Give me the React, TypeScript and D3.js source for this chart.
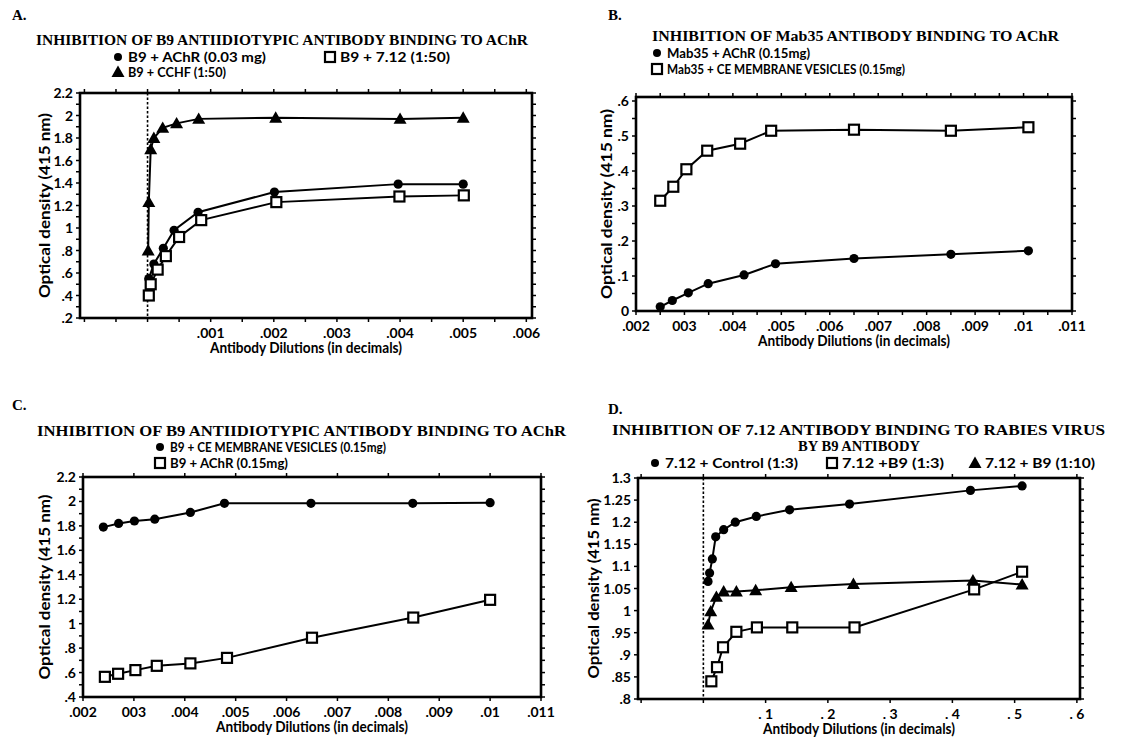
import React from 'react';
import * as d3 from 'd3';

// ---------- Panel A data ----------
const aCircleX = [0.00002, 0.0001, 0.00025, 0.00042, 0.0008, 0.00201, 0.00397, 0.005];
const aCircleY = [0.55, 0.68, 0.82, 0.98, 1.14, 1.32, 1.39, 1.39];
const aSquareX = [0.00002, 0.00005, 0.00016, 0.00029, 0.0005, 0.00085, 0.00204, 0.00399, 0.00501];
const aSquareY = [0.4, 0.5, 0.63, 0.75, 0.92, 1.07, 1.23, 1.28, 1.29];
const aTriX = [0.00001, 0.00002, 0.00005, 0.0001, 0.00024, 0.00046, 0.00081, 0.00203, 0.004, 0.005];
const aTriY = [0.8, 1.23, 1.7, 1.8, 1.89, 1.93, 1.97, 1.98, 1.97, 1.98];
const aXTickVals = [0.001, 0.002, 0.003, 0.004, 0.005, 0.006];
const aXTickLabels = ['.001', '.002', '.003', '.004', '.005', '.006'];
const aYTickVals = [2.2, 2, 1.8, 1.6, 1.4, 1.2, 1, 0.8, 0.6, 0.4, 0.2];
const aYTickLabels = ['2.2', '2', '1.8', '1.6', '1.4', '1.2', '1', '.8', '.6', '.4', '.2'];

// ---------- Panel B data ----------
const bCircleX = [0.0025, 0.00275, 0.00308, 0.00349, 0.00423, 0.00488, 0.0065, 0.0085, 0.0101];
const bCircleY = [0.012, 0.03, 0.052, 0.078, 0.103, 0.135, 0.15, 0.162, 0.172];
const bSquareX = [0.0025, 0.00277, 0.00304, 0.00347, 0.00415, 0.00479, 0.0065, 0.0085, 0.0101];
const bSquareY = [0.315, 0.355, 0.405, 0.458, 0.478, 0.515, 0.518, 0.515, 0.525];
const bXTickVals = [0.002, 0.003, 0.004, 0.005, 0.006, 0.007, 0.008, 0.009, 0.01, 0.011];
const bXTickLabels = ['.002', '003', '.004', '.005', '.006', '.007', '.008', '.009', '.01', '.011'];
const bYTickVals = [0.6, 0.5, 0.4, 0.3, 0.2, 0.1, 0];
const bYTickLabels = ['.6', '.5', '.4', '.3', '.2', '.1', '0'];

// ---------- Panel C data ----------
const cCircleX = [0.0024, 0.0027, 0.00301, 0.00341, 0.00411, 0.00478, 0.00648, 0.00848, 0.01];
const cCircleY = [1.79, 1.82, 1.84, 1.855, 1.91, 1.985, 1.985, 1.985, 1.99];
const cSquareX = [0.00243, 0.00269, 0.00303, 0.00345, 0.00411, 0.00483, 0.0065, 0.00849, 0.01];
const cSquareY = [0.565, 0.59, 0.62, 0.655, 0.675, 0.72, 0.885, 1.05, 1.195];
const cXTickVals = [0.002, 0.003, 0.004, 0.005, 0.006, 0.007, 0.008, 0.009, 0.01, 0.011];
const cXTickLabels = ['.002', '003', '.004', '.005', '.006', '.007', '.008', '.009', '.01', '.011'];
const cYTickVals = [2.2, 2, 1.8, 1.6, 1.4, 1.2, 1, 0.8, 0.6, 0.4];
const cYTickLabels = ['2.2', '2', '1.8', '1.6', '1.4', '1.2', '1', '.8', '.6', '.4'];

// ---------- Panel D data ----------
const dCircleX = [0.0075, 0.01, 0.0144, 0.0198, 0.0326, 0.0513, 0.085, 0.1385, 0.2348, 0.429, 0.512];
const dCircleY = [1.066, 1.085, 1.117, 1.167, 1.183, 1.2, 1.213, 1.228, 1.241, 1.272, 1.282];
const dSquareX = [0.0128, 0.0219, 0.0316, 0.053, 0.086, 0.1428, 0.2428, 0.435, 0.512];
const dSquareY = [0.84, 0.872, 0.917, 0.952, 0.962, 0.962, 0.962, 1.048, 1.088];
const dTriX = [0.0075, 0.0118, 0.0209, 0.0326, 0.053, 0.084, 0.141, 0.241, 0.433, 0.512];
const dTriY = [0.968, 0.998, 1.031, 1.043, 1.043, 1.046, 1.053, 1.06, 1.068, 1.059];
const dXTickVals = [0.1, 0.2, 0.3, 0.4, 0.5, 0.6];
const dXTickLabels = ['. 1', '. 2', '. 3', '. 4', '. 5', '. 6'];
const dYTickVals = [1.3, 1.25, 1.2, 1.15, 1.1, 1.05, 1, 0.95, 0.9, 0.85, 0.8];
const dYTickLabels = ['1.3', '1.25', '1.2', '1.15', '1.1', '1.05', '1', '.95', '.9', '.85', '.8'];

const SANS = "Lato, 'Open Sans', 'Liberation Sans', sans-serif";
const SERIF = "'Liberation Serif', 'DejaVu Serif', serif";

type Marker = 'circle' | 'square' | 'triangle';
type Series = { xs: number[]; ys: number[]; marker: Marker };

type PanelSpec = {
  left: number; right: number; top: number; bottom: number;
  xDomain: [number, number]; yDomain: [number, number];
  yTop: number;
  xMinor: number[]; yMinorLeft: number[]; yMinorRight: number[];
  xTickVals: number[]; xTickLabels: string[];
  yTickVals: number[]; yTickLabels: string[];
  series: Series[];
  dotted: boolean;
  yTitleX: number;
  yTitleLen: number;
};

function MarkerShape({ m, cx, cy, r = 4.6 }: { m: Marker; cx: number; cy: number; r?: number }) {
  if (m === 'circle') return <circle cx={cx} cy={cy} r={r} fill="#000" />;
  if (m === 'square')
    return <rect x={cx - 5} y={cy - 5} width={10} height={10} fill="#fff" stroke="#000" strokeWidth={2.2} />;
  const s = 6.5;
  return <path d={`M${cx},${cy - s}L${cx + s},${cy + s * 0.75}L${cx - s},${cy + s * 0.75}Z`} fill="#000" />;
}

function Panel({ p }: { p: PanelSpec }) {
  const x = d3.scaleLinear().domain(p.xDomain).range([p.left, p.right]);
  const y = d3.scaleLinear().domain(p.yDomain).range([p.bottom, p.yTop]);
  const line = d3.line<[number, number]>().x(d => x(d[0])).y(d => y(d[1]));
  const tl = 4;
  return (
    <g>
      {p.xMinor.map((v, i) => (
        <g key={'xt' + i}>
          <line x1={x(v)} x2={x(v)} y1={p.top} y2={p.top - tl} stroke="#000" strokeWidth={1.5} />
          <line x1={x(v)} x2={x(v)} y1={p.bottom} y2={p.bottom + tl} stroke="#000" strokeWidth={1.5} />
        </g>
      ))}
      {p.yMinorLeft.map((v, i) => (
        <line key={'yl' + i} x1={p.left} x2={p.left - tl} y1={y(v)} y2={y(v)} stroke="#000" strokeWidth={1.5} />
      ))}
      {p.yMinorRight.map((v, i) => (
        <line key={'yr' + i} x1={p.right} x2={p.right + tl} y1={y(v)} y2={y(v)} stroke="#000" strokeWidth={1.5} />
      ))}
      <rect x={p.left} y={p.top} width={p.right - p.left} height={p.bottom - p.top} fill="none" stroke="#000" strokeWidth={2.6} />
      {p.dotted && (
        <line x1={x(0)} x2={x(0)} y1={p.top} y2={p.bottom} stroke="#000" strokeWidth={1.6} strokeDasharray="2.5,2" />
      )}
      {p.yTickVals.map((v, i) => (
        <text key={'yl' + i} x={p.left - 7} y={y(v)} dy="0.36em" textAnchor="end" fontFamily={SANS} fontWeight="bold" fontSize={14}>
          {p.yTickLabels[i]}
        </text>
      ))}
      {p.xTickVals.map((v, i) => (
        <text key={'xl' + i} x={x(v)} y={p.bottom + 20} textAnchor="middle" fontFamily={SANS} fontWeight="bold" fontSize={14}>
          {p.xTickLabels[i]}
        </text>
      ))}
      <text x={(p.left + p.right) / 2} y={p.bottom + 35} textAnchor="middle" fontFamily={SANS} fontWeight="bold" fontSize={14.5}
        textLength={192} lengthAdjust="spacingAndGlyphs">
        Antibody Dilutions (in decimals)
      </text>
      <text transform={`translate(${p.yTitleX},${(p.top + p.bottom) / 2}) rotate(-90)`} textAnchor="middle" fontFamily={SANS} fontWeight="bold" fontSize={15}
        textLength={p.yTitleLen} lengthAdjust="spacingAndGlyphs">
        Optical density (415 nm)
      </text>
      {p.series.map((s, si) => {
        const pts: [number, number][] = s.xs.map((v, i) => [v, s.ys[i]]);
        return (
          <g key={'s' + si}>
            <path d={line(pts) || ''} fill="none" stroke="#000" strokeWidth={2} />
            {pts.map((d, i) => (
              <MarkerShape key={i} m={s.marker} cx={x(d[0])} cy={y(d[1])} />
            ))}
          </g>
        );
      })}
    </g>
  );
}

const step = (a: number, b: number, s: number) => d3.range(Math.round((b - a) / s) + 1).map(i => +(a + i * s).toFixed(6));

const panelA: PanelSpec = {
  left: 80, right: 532, top: 93, bottom: 318,
  xDomain: [-0.00107, 0.00609], yDomain: [0.2, 2.2], yTop: 93,
  xMinor: step(-0.001, 0.006, 0.0005), yMinorLeft: step(0.2, 2.2, 0.1), yMinorRight: step(0.2, 2.2, 0.1),
  xTickVals: aXTickVals, xTickLabels: aXTickLabels, yTickVals: aYTickVals, yTickLabels: aYTickLabels,
  series: [
    { xs: aCircleX, ys: aCircleY, marker: 'circle' },
    { xs: aSquareX, ys: aSquareY, marker: 'square' },
    { xs: aTriX, ys: aTriY, marker: 'triangle' },
  ],
  dotted: true, yTitleX: 50, yTitleLen: 185,
};

const panelB: PanelSpec = {
  left: 636, right: 1072, top: 97, bottom: 311,
  xDomain: [0.002, 0.011], yDomain: [0, 0.6], yTop: 101,
  xMinor: step(0.002, 0.011, 0.0005), yMinorLeft: step(0, 0.6, 0.05), yMinorRight: step(0, 0.6, 0.05),
  xTickVals: bXTickVals, xTickLabels: bXTickLabels, yTickVals: bYTickVals, yTickLabels: bYTickLabels,
  series: [
    { xs: bCircleX, ys: bCircleY, marker: 'circle' },
    { xs: bSquareX, ys: bSquareY, marker: 'square' },
  ],
  dotted: false, yTitleX: 612, yTitleLen: 190,
};

const panelC: PanelSpec = {
  left: 83, right: 541, top: 477, bottom: 697,
  xDomain: [0.002, 0.011], yDomain: [0.4, 2.2], yTop: 477,
  xMinor: step(0.002, 0.011, 0.001), yMinorLeft: step(0.4, 2.2, 0.1), yMinorRight: step(0.4, 2.2, 0.1),
  xTickVals: cXTickVals, xTickLabels: cXTickLabels, yTickVals: cYTickVals, yTickLabels: cYTickLabels,
  series: [
    { xs: cCircleX, ys: cCircleY, marker: 'circle' },
    { xs: cSquareX, ys: cSquareY, marker: 'square' },
  ],
  dotted: false, yTitleX: 50, yTitleLen: 185,
};

const panelD: PanelSpec = {
  left: 638, right: 1080, top: 478, bottom: 699,
  xDomain: [-0.105, 0.605], yDomain: [0.8, 1.3], yTop: 478,
  xMinor: step(-0.1, 0.6, 0.1), yMinorLeft: step(0.8, 1.3, 0.05), yMinorRight: step(0.8, 1.3, 0.025),
  xTickVals: dXTickVals, xTickLabels: dXTickLabels, yTickVals: dYTickVals, yTickLabels: dYTickLabels,
  series: [
    { xs: dCircleX, ys: dCircleY, marker: 'circle' },
    { xs: dSquareX, ys: dSquareY, marker: 'square' },
    { xs: dTriX, ys: dTriY, marker: 'triangle' },
  ],
  dotted: true, yTitleX: 599, yTitleLen: 180,
};

function LegendItem({ x, y, m, label, w }: { x: number; y: number; m: Marker; label: string; w: number }) {
  return (
    <g>
      <MarkerShape m={m} cx={x} cy={y - 5} r={4} />
      <text x={x + 10} y={y} fontFamily={SANS} fontWeight="bold" fontSize={14} textLength={w} lengthAdjust="spacingAndGlyphs">
        {label}
      </text>
    </g>
  );
}

function Title({ x, y, text, w, fs = 15 }: { x: number; y: number; text: string; w: number; fs?: number }) {
  return (
    <text x={x} y={y} fontFamily={SERIF} fontWeight="bold" fontSize={fs} textLength={w} lengthAdjust="spacingAndGlyphs">
      {text}
    </text>
  );
}

export default function App() {
  return (
    <svg width={1138} height={742} style={{ position: 'absolute', left: 0, top: 0, background: '#fff' }}>
      <rect width={1138} height={742} fill="#fff" />
      <text x={12} y={20} fontFamily={SERIF} fontWeight="bold" fontSize={15}>A.</text>
      <text x={608} y={20} fontFamily={SERIF} fontWeight="bold" fontSize={15}>B.</text>
      <text x={12} y={410} fontFamily={SERIF} fontWeight="bold" fontSize={15}>C.</text>
      <text x={608} y={414} fontFamily={SERIF} fontWeight="bold" fontSize={15}>D.</text>

      <Title x={36} y={45} w={492} text="INHIBITION OF B9 ANTIIDIOTYPIC ANTIBODY BINDING TO AChR" />
      <Title x={652} y={41} w={407} text="INHIBITION OF Mab35 ANTIBODY BINDING TO AChR" />
      <Title x={37} y={436} w={529} text="INHIBITION OF B9 ANTIIDIOTYPIC ANTIBODY BINDING TO AChR" />
      <Title x={612} y={435} w={493} text="INHIBITION OF 7.12 ANTIBODY BINDING TO RABIES VIRUS" />
      <Title x={798} y={451} w={122} fs={14} text="BY B9 ANTIBODY" />

      <LegendItem x={118} y={62} m="circle" label="B9 + AChR (0.03 mg)" w={138} />
      <LegendItem x={330} y={62} m="square" label="B9 + 7.12 (1:50)" w={110} />
      <LegendItem x={118} y={77} m="triangle" label="B9 + CCHF (1:50)" w={98} />

      <LegendItem x={657} y={58} m="circle" label="Mab35 + AChR (0.15mg)" w={143} />
      <LegendItem x={657} y={74} m="square" label="Mab35 + CE MEMBRANE VESICLES (0.15mg)" w={238} />

      <LegendItem x={160} y={452} m="circle" label="B9 + CE MEMBRANE VESICLES (0.15mg)" w={216} />
      <LegendItem x={160} y={468} m="square" label="B9 + AChR (0.15mg)" w={118} />

      <LegendItem x={655} y={468} m="circle" label="7.12 + Control (1:3)" w={133} />
      <LegendItem x={832} y={468} m="square" label="7.12 +B9 (1:3)" w={102} />
      <LegendItem x={975} y={468} m="triangle" label="7.12 + B9 (1:10)" w={110} />

      <Panel p={panelA} />
      <Panel p={panelB} />
      <Panel p={panelC} />
      <Panel p={panelD} />
    </svg>
  );
}
